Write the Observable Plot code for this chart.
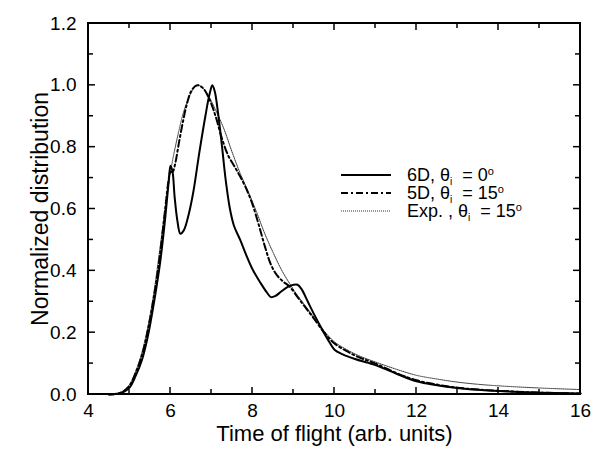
<!DOCTYPE html>
<html><head><meta charset="utf-8">
<script src="https://cdn.jsdelivr.net/npm/d3@7"></script>
<script src="https://cdn.jsdelivr.net/npm/@observablehq/plot@0.6"></script>
<style>
body{margin:0;background:#fff;font-family:"Liberation Sans",Arial,Helvetica,sans-serif;}
#wrap{position:relative;width:594px;height:454px;}
#wrap > svg{position:absolute;left:0;top:0;}
#overlay{position:absolute;left:0;top:0;pointer-events:none;z-index:1;}
#legend{position:absolute;left:340px;top:166px;font-size:18px;color:#000;z-index:2;}
#legend .row{display:flex;align-items:center;height:18px;white-space:nowrap;}
#legend .sample{width:52px;height:18px;margin-right:15px;flex:none;}
#legend sub{font-size:10px;position:relative;top:4px;vertical-align:baseline;line-height:0;}
#legend sup{font-size:11px;position:relative;top:-6px;vertical-align:baseline;line-height:0;}
</style></head><body><div id="wrap"><div id="legend"></div></div>
<script>
// Data
const t6D = [4.5, 4.7, 4.85, 5.0, 5.15, 5.3, 5.45, 5.6, 5.75, 5.87, 5.95, 6.0, 6.05, 6.1, 6.17, 6.24, 6.32, 6.42, 6.55, 6.7, 6.85, 6.95, 7.02, 7.08, 7.16, 7.25, 7.35, 7.45, 7.55, 7.7, 7.85, 8.0, 8.2, 8.35, 8.45, 8.55, 8.7, 8.85, 9.0, 9.1, 9.2, 9.35, 9.5, 9.7, 9.85, 10.0, 10.2, 10.5, 10.8, 11.0, 11.5, 12.0, 12.5, 13.0, 13.5, 14.0, 15.0, 16.0];
const y6D = [0, 0.002, 0.008, 0.022, 0.06, 0.11, 0.19, 0.3, 0.43, 0.57, 0.68, 0.74, 0.72, 0.64, 0.56, 0.52, 0.53, 0.57, 0.65, 0.78, 0.9, 0.97, 1.0, 0.98, 0.91, 0.81, 0.69, 0.6, 0.545, 0.5, 0.45, 0.405, 0.36, 0.33, 0.315, 0.318, 0.333, 0.347, 0.355, 0.355, 0.34, 0.3, 0.26, 0.21, 0.175, 0.145, 0.13, 0.115, 0.103, 0.095, 0.068, 0.043, 0.03, 0.021, 0.015, 0.011, 0.006, 0.003];

const t5D = [4.5, 4.7, 4.85, 5.0, 5.15, 5.3, 5.45, 5.6, 5.75, 5.87, 5.95, 6.0, 6.05, 6.12, 6.2, 6.3, 6.4, 6.5, 6.6, 6.68, 6.8, 6.95, 7.1, 7.25, 7.4, 7.55, 7.7, 7.85, 8.0, 8.15, 8.3, 8.45, 8.6, 8.75, 8.9, 9.1, 9.3, 9.5, 9.75, 10.0, 10.3, 10.6, 11.0, 11.5, 12.0, 12.5, 13.0, 13.5, 14.0, 15.0, 16.0];
const y5D = [0, 0.003, 0.01, 0.028, 0.07, 0.125, 0.21, 0.32, 0.46, 0.6, 0.69, 0.72, 0.72, 0.75, 0.81, 0.88, 0.94, 0.98, 0.997, 1.0, 0.99, 0.955, 0.9, 0.83, 0.775, 0.74, 0.705, 0.665, 0.615, 0.55, 0.48, 0.42, 0.385, 0.365, 0.35, 0.315, 0.28, 0.245, 0.2, 0.165, 0.14, 0.12, 0.1, 0.07, 0.046, 0.032, 0.022, 0.016, 0.012, 0.006, 0.003];

const tExp = [4.5, 4.7, 4.85, 5.0, 5.15, 5.3, 5.45, 5.6, 5.75, 5.9, 6.0, 6.1, 6.2, 6.3, 6.4, 6.5, 6.6, 6.68, 6.8, 6.95, 7.1, 7.3, 7.5, 7.7, 7.9, 8.1, 8.3, 8.5, 8.7, 8.9, 9.1, 9.3, 9.5, 9.75, 10.0, 10.3, 10.6, 11.0, 11.5, 12.0, 12.5, 13.0, 13.5, 14.0, 15.0, 16.0];
const yExp = [0, 0.004, 0.012, 0.032, 0.075, 0.135, 0.22, 0.335, 0.48, 0.63, 0.72, 0.79, 0.85, 0.905, 0.945, 0.975, 0.995, 1.0, 0.99, 0.96, 0.92, 0.86, 0.785, 0.715, 0.655, 0.59, 0.52, 0.46, 0.405, 0.36, 0.32, 0.285, 0.25, 0.205, 0.17, 0.145, 0.125, 0.105, 0.082, 0.062, 0.05, 0.04, 0.033, 0.028, 0.021, 0.016];

const xTickLabels = [4, 6, 8, 10, 12, 14, 16];
const xMinorTicks = [5, 7, 9, 11, 13, 15];
const yTickLabels = [0, 0.2, 0.4, 0.6, 0.8, 1.0, 1.2];
const yMinorTicks = [0.1, 0.3, 0.5, 0.7, 0.9, 1.1];
const xTitle = "Time of flight (arb. units)";
const yTitle = "Normalized distribution";
const seriesNames = ["6D", "5D", "Exp. "];
const seriesAngles = ["0", "15", "15"];

const W = 594, H = 454;
const mL = 88, mR = 14, mT = 23, mB = 60;
const xDom = [4, 16], yDom = [0, 1.2];
const majorLen = 7, minorLen = 5;

const toRows = (t, y) => t.map((v, i) => ({t: v, y: y[i]}));
const d6 = toRows(t6D, y6D), d5 = toRows(t5D, y5D), dE = toRows(tExp, yExp);

const styles = [
  {stroke: "#000", strokeWidth: 2, dash: "none"},
  {stroke: "#000", strokeWidth: 2, dash: "7,3,2,3"},
  {stroke: "#333", strokeWidth: 1, dash: "1,1"}
];

const chart = Plot.plot({
  width: W, height: H,
  marginLeft: mL, marginRight: mR, marginTop: mT, marginBottom: mB,
  style: {fontFamily: '"Liberation Sans", Arial, Helvetica, sans-serif', background: "#fff"},
  x: {domain: xDom},
  y: {domain: yDom},
  marks: [
    Plot.axisX({ticks: xTickLabels, tickSize: 0, tickPadding: 9, fontSize: 19, tickFormat: d => String(d), label: null}),
    Plot.axisY({ticks: yTickLabels, tickSize: 0, tickPadding: 12, fontSize: 19, tickFormat: d => d.toFixed(1), label: null}),
    Plot.line(dE, {x: "t", y: "y", curve: "catmull-rom", stroke: styles[2].stroke, strokeWidth: styles[2].strokeWidth, strokeDasharray: styles[2].dash}),
    Plot.line(d5, {x: "t", y: "y", curve: "catmull-rom", stroke: styles[1].stroke, strokeWidth: styles[1].strokeWidth, strokeDasharray: styles[1].dash}),
    Plot.line(d6, {x: "t", y: "y", curve: "catmull-rom", stroke: styles[0].stroke, strokeWidth: styles[0].strokeWidth}),
    Plot.text([xTitle], {frameAnchor: "bottom", dy: 46, fontSize: 22, fill: "#000"}),
    Plot.text([yTitle], {frameAnchor: "left", textAnchor: "middle", dx: -48, rotate: -90, fontSize: 23, fill: "#000"})
  ]
});
const wrap = document.getElementById("wrap");
wrap.prepend(chart);

// Frame and inward ticks, positioned with the chart's own scales
const sx = chart.scale("x"), sy = chart.scale("y");
const X = v => sx.apply(v), Y = v => sy.apply(v);
const ov = d3.create("svg").attr("id", "overlay").attr("width", W).attr("height", H)
  .attr("viewBox", `0 0 ${W} ${H}`);
const g = ov.append("g").attr("stroke", "#000").attr("fill", "none");
const x0 = X(xDom[0]), x1 = X(xDom[1]), y0 = Y(yDom[0]), y1 = Y(yDom[1]);
const addTicksX = (vals, len) => vals.forEach(v => {
  g.append("path").attr("stroke-width", 1.5).attr("d", `M${X(v)},${y0}V${y0 - len}`);
  g.append("path").attr("stroke-width", 1.5).attr("d", `M${X(v)},${y1}V${y1 + len}`);
});
const addTicksY = (vals, len) => vals.forEach(v => {
  g.append("path").attr("stroke-width", 1.5).attr("d", `M${x0},${Y(v)}H${x0 + len}`);
  g.append("path").attr("stroke-width", 1.5).attr("d", `M${x1},${Y(v)}H${x1 - len}`);
});
addTicksX(xTickLabels, majorLen); addTicksX(xMinorTicks, minorLen);
addTicksY(yTickLabels, majorLen); addTicksY(yMinorTicks, minorLen);
g.append("path").attr("stroke-width", 2).attr("stroke-linejoin", "miter")
  .attr("d", `M${x0},${y0}H${x1}V${y1}H${x0}Z`);
wrap.appendChild(ov.node());

const legend = document.getElementById("legend");
seriesNames.forEach((name, i) => {
  const row = document.createElement("div");
  row.className = "row";
  const s = styles[i];
  row.innerHTML = `<svg class="sample" viewBox="0 0 52 18"><path d="M1,9H51" fill="none" stroke="${s.stroke}" stroke-width="${s.strokeWidth}" stroke-dasharray="${s.dash}"/></svg>` +
    `<span>${name}, θ<sub>i</sub>&nbsp; = ${seriesAngles[i]}<sup>o</sup></span>`;
  legend.appendChild(row);
});
</script></body></html>
